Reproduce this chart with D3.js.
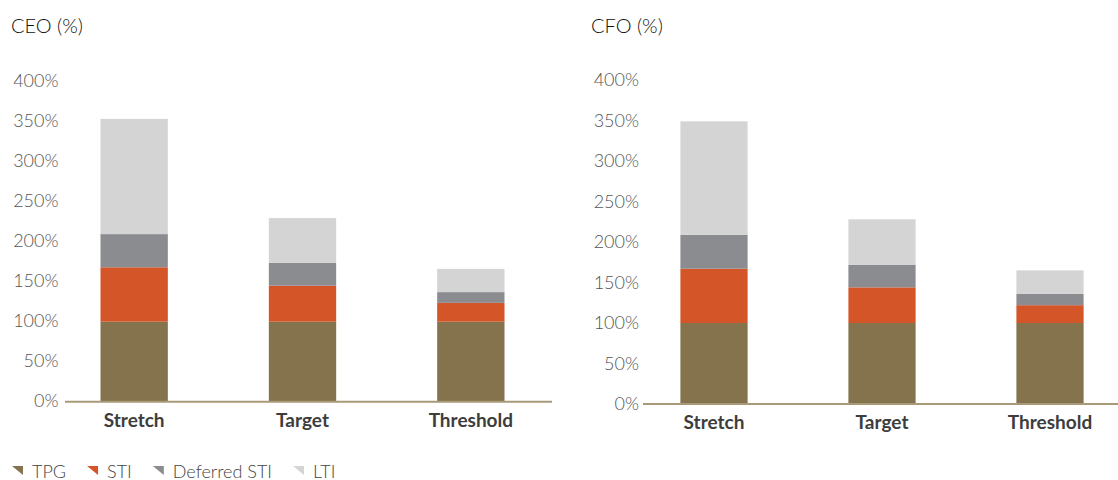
<!DOCTYPE html>
<html>
<head>
<meta charset="utf-8">
<script src="https://cdn.jsdelivr.net/npm/d3@7"></script>
<style>
  html, body { margin: 0; padding: 0; background: #ffffff; }
  svg { display: block; font-family: Lato, "Open Sans", sans-serif; }
</style>
</head>
<body>
<svg id="chart" width="1118" height="480"></svg>
<script>
// Pay mix categories and components
const categories = ["Stretch", "Target", "Threshold"];
const seriesNames = ["TPG", "STI", "Deferred STI", "LTI"];
const seriesColors = ["#84734C", "#D45528", "#8B8C90", "#D4D4D4"];
const yTicks = [0, 50, 100, 150, 200, 250, 300, 350, 400];

// CEO (% of TPG)
const ceoTPG      = [100, 100, 100];
const ceoSTI      = [68, 45, 23.5];
const ceoDeferred = [41.5, 28.5, 13.5];
const ceoLTI      = [144, 56, 29];

// CFO (% of TPG)
const cfoTPG      = [100, 100, 100];
const cfoSTI      = [67, 44, 22];
const cfoDeferred = [42, 28, 14];
const cfoLTI      = [140, 56, 29];

const svg = d3.select("#chart");

function buildRows(tpg, sti, deferred, lti) {
  return categories.map((c, i) => ({
    category: c,
    "TPG": tpg[i],
    "STI": sti[i],
    "Deferred STI": deferred[i],
    "LTI": lti[i]
  }));
}

const panels = [
  {
    title: "CEO (%)",
    rows: buildRows(ceoTPG, ceoSTI, ceoDeferred, ceoLTI),
    titleX: 11, tickRight: 58.5,
    yBase: 401.7, yTop: 81.7, labelShift: -2,
    band: [50, 555], axisLine: [65, 552]
  },
  {
    title: "CFO (%)",
    rows: buildRows(cfoTPG, cfoSTI, cfoDeferred, cfoLTI),
    titleX: 591, tickRight: 639,
    yBase: 404, yTop: 80, labelShift: -1,
    band: [630, 1134], axisLine: [643, 1118]
  }
];

const stack = d3.stack().keys(seriesNames);

panels.forEach(p => {
  const g = svg.append("g");

  const x = d3.scaleBand()
    .domain(categories)
    .range(p.band)
    .paddingInner(0.6)
    .paddingOuter(0.3);

  const y = d3.scaleLinear()
    .domain([0, 400])
    .range([p.yBase, p.yTop]);

  // panel title
  g.append("text")
    .attr("x", p.titleX)
    .attr("y", 33)
    .attr("font-size", 20)
    .attr("font-weight", 300)
    .attr("fill", "#111111")
    .text(p.title);

  // y axis labels
  const yAxis = d3.axisLeft(y)
    .tickValues(yTicks)
    .tickFormat(d => d + "%")
    .tickSize(0)
    .tickPadding(0);

  const ya = g.append("g")
    .attr("transform", `translate(${p.tickRight},0)`)
    .call(yAxis);
  ya.select(".domain").remove();
  ya.selectAll("text")
    .attr("dy", null)
    .attr("y", p.labelShift + 6.5)
    .attr("font-family", "Lato, 'Open Sans', sans-serif")
    .attr("font-size", 18)
    .attr("font-weight", 300)
    .attr("fill", "#555555");

  // stacked bars
  const layers = stack(p.rows);
  g.selectAll("g.layer")
    .data(layers)
    .join("g")
    .attr("class", "layer")
    .attr("fill", (d, i) => seriesColors[i])
    .selectAll("rect")
    .data(d => d)
    .join("rect")
    .attr("x", d => x(d.data.category))
    .attr("width", x.bandwidth())
    .attr("y", d => y(d[1]))
    .attr("height", d => y(d[0]) - y(d[1]));

  // baseline
  g.append("line")
    .attr("x1", p.axisLine[0])
    .attr("x2", p.axisLine[1])
    .attr("y1", y(0))
    .attr("y2", y(0))
    .attr("stroke", "#A89A78")
    .attr("stroke-width", 2);

  // category labels
  const xAxis = d3.axisBottom(x).tickSize(0).tickPadding(0);
  const xa = g.append("g")
    .attr("transform", `translate(0,${y(0) + 25})`)
    .call(xAxis);
  xa.select(".domain").remove();
  xa.selectAll("text")
    .attr("dy", null)
    .attr("y", 0)
    .attr("font-family", "Lato, 'Open Sans', sans-serif")
    .attr("font-size", 19)
    .attr("font-weight", 700)
    .attr("fill", "#3d3d3d");
});

// legend
const legend = svg.append("g").attr("transform", "translate(12,466)");
let cursor = 0;
seriesNames.forEach((name, i) => {
  const item = legend.append("g").attr("transform", `translate(${cursor},0)`);
  item.append("path")
    .attr("d", "M0,0 L11,0 L11,9 Z")
    .attr("fill", seriesColors[i]);
  const t = item.append("text")
    .attr("x", 20)
    .attr("y", 11.5)
    .attr("font-size", 18)
    .attr("font-weight", 300)
    .attr("fill", "#444444")
    .text(name);
  cursor += 20 + t.node().getComputedTextLength() + 21;
});
</script>
</body>
</html>
